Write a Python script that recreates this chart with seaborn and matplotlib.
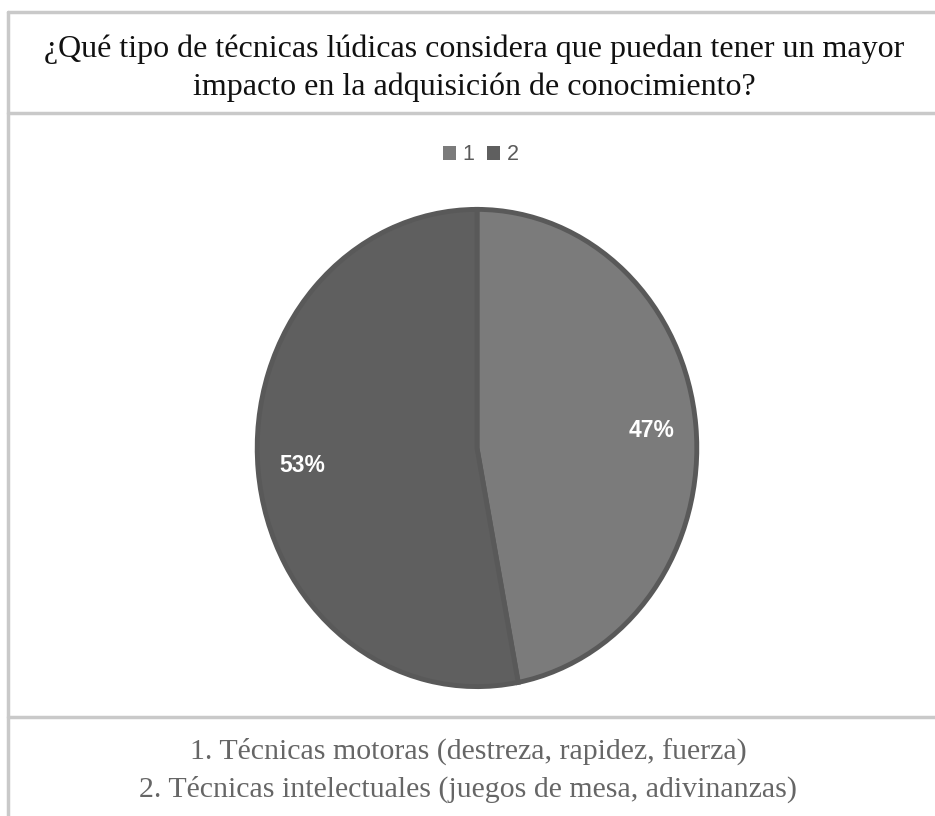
import matplotlib
matplotlib.use("Agg")
import matplotlib.pyplot as plt
import seaborn as sns
from matplotlib.lines import Line2D

sns.set_theme(style="white")

title_text = "¿Qué tipo de técnicas lúdicas considera que puedan tener un mayor\nimpacto en la adquisición de conocimiento?"
categories = ["1", "2"]
values = [47, 53]
slice_colors = ["#7b7b7b", "#5f5f5f"]
footer_lines = ["1. Técnicas motoras (destreza, rapidez, fuerza)",
                "2. Técnicas intelectuales (juegos de mesa, adivinanzas)"]

W, H = 935, 816
fig = plt.figure(figsize=(W / 100, H / 100), dpi=100)
fig.patch.set_facecolor("white")

def fx(px):
    return px / W

def fy(py):
    return 1 - py / H

# table borders
line_col = "#c9c9c9"
for y in (12, 113, 717):
    fig.add_artist(Line2D([fx(8), 1.0], [fy(y), fy(y)], color=line_col, lw=2.5,
                          transform=fig.transFigure))
fig.add_artist(Line2D([fx(8), fx(8)], [fy(12), 0.0], color=line_col, lw=2.5,
                      transform=fig.transFigure))

# title
fig.text(fx(474), fy(68.5), title_text, ha="center", va="center",
         fontsize=23, family="Liberation Serif", color="#111111", linespacing=1.38)

# pie axes
cx, cy, rx, ry = 477, 448, 222, 241
ax = fig.add_axes([fx(cx - rx), fy(cy + ry), 2 * rx / W, 2 * ry / H])
wedges, texts, autotexts = ax.pie(
    values, colors=slice_colors, startangle=90, counterclock=False,
    autopct="%1.0f%%", pctdistance=0.8, radius=1,
    wedgeprops=dict(edgecolor="#595959", linewidth=3.5),
    textprops=dict(color="white", fontsize=16.5, fontweight="bold",
                   family="Liberation Sans"))
ax.set_aspect("auto")
ax.set_xlim(-1.01, 1.01)
ax.set_ylim(-1.01, 1.01)
ax.axis("off")

# legend
handles = [plt.Rectangle((0, 0), 1, 1, facecolor=c, edgecolor="none") for c in slice_colors]
leg = fig.legend(handles, categories, loc="center", bbox_to_anchor=(fx(481), fy(155)),
                 ncol=2, frameon=False, handlelength=0.6, handleheight=0.6,
                 handletextpad=0.3, columnspacing=0.6,
                 prop=dict(family="Liberation Sans", size=15.5))
for t in leg.get_texts():
    t.set_color("#5a5a5a")

# footer
fig.text(fx(468), fy(770), "\n".join(footer_lines), ha="center", va="center",
         fontsize=21.5, family="Liberation Serif", color="#666666", linespacing=1.5)

fig.savefig("out.png", dpi=100, facecolor="white")
